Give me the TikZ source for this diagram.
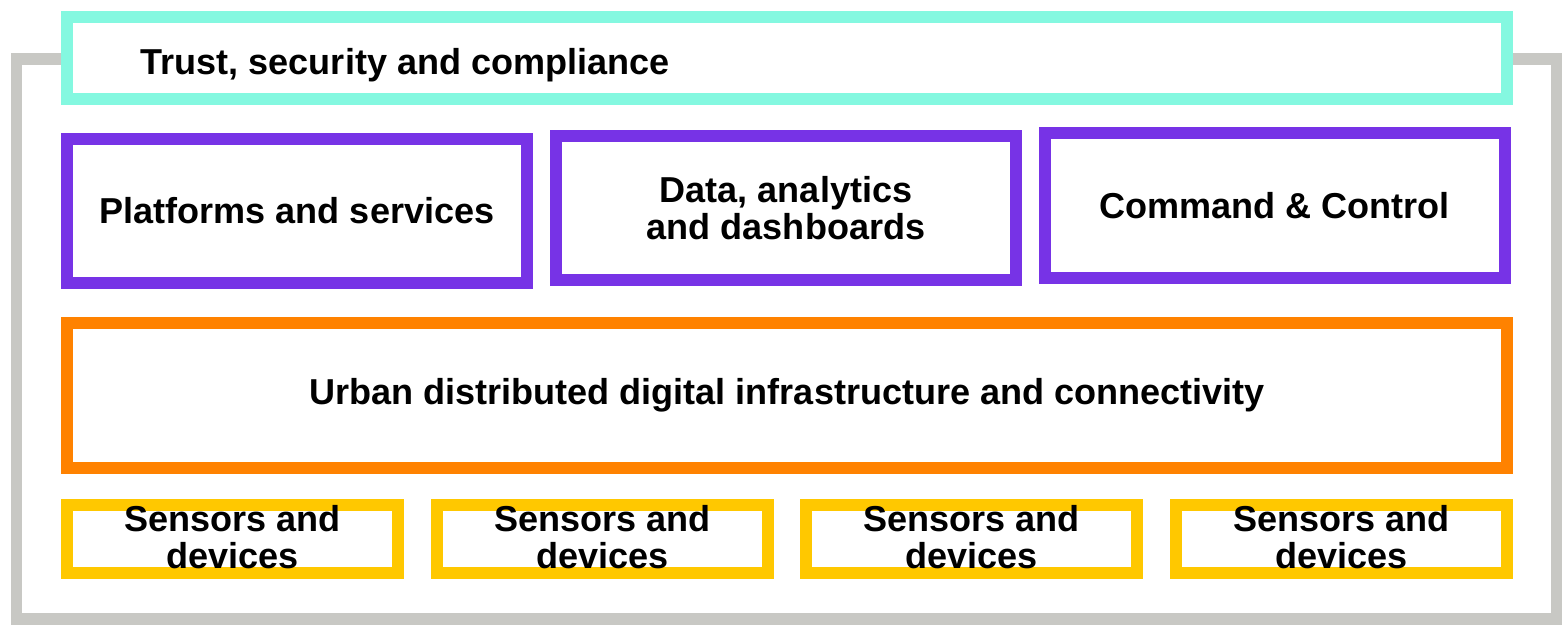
\documentclass[tikz,border=0pt]{standalone}
\usepackage{fontspec}
\setmainfont{Liberation Sans}
\usepackage{tikz}
\usetikzlibrary{positioning}
\definecolor{mteal}{HTML}{84F8E0}
\definecolor{mpurple}{HTML}{7733E6}
\definecolor{morange}{HTML}{FF8200}
\definecolor{myellow}{HTML}{FFC800}
\definecolor{mgrey}{HTML}{C8C8C4}
\tikzset{layer/.style = {draw, fill=white, rectangle, line width=3.4pt,
                         inner sep=0pt, align=center,
                         font=\fontsize{10.25}{10.45}\selectfont\bfseries},
         label/.style = {inner sep=0pt, align=center,
                         font=\fontsize{10.25}{10.45}\selectfont\bfseries}}

\begin{document}
\begin{tikzpicture}[x=0.01cm, y=-0.01cm]
      \useasboundingbox (0, 0) rectangle (1562, 629);

      \draw [mgrey, line width=3.3pt] (16.5, 59) rectangle (1557, 619);

      \node [layer, draw=mteal, minimum width=14.4cm, minimum height=0.82cm] (trust) at (787, 58) {};
      \node [label, anchor=base west] (trust-text) at (140, 74) {Trust, security and compliance};

      \node [layer, draw=mpurple, minimum width=4.6cm, minimum height=1.435cm] (platforms) at (297, 210.75) {Platforms and services};
      \node [layer, draw=mpurple, minimum width=4.6cm, minimum height=1.44cm] (data) at (786, 208) {Data, analytics\\and dashboards};
      \node [layer, draw=mpurple, minimum width=4.595cm, minimum height=1.445cm] (command) at (1274.75, 205.25) {Command \& Control};

      \node [layer, draw=morange, minimum width=14.4cm, minimum height=1.445cm] (urban) at (787, 395.25) {Urban distributed digital infrastructure and connectivity};

      \foreach \i/\x in {1/232.6, 2/602.5, 3/971.8, 4/1341.6} {
        \node [layer, draw=myellow, minimum width=3.31cm, minimum height=0.683cm] (sensors\i) at (\x, 539.15) {};
        \node [label] (sensors\i-text) at (\x, 537) {Sensors and\\devices};
      }
    \end{tikzpicture}
\end{document}
